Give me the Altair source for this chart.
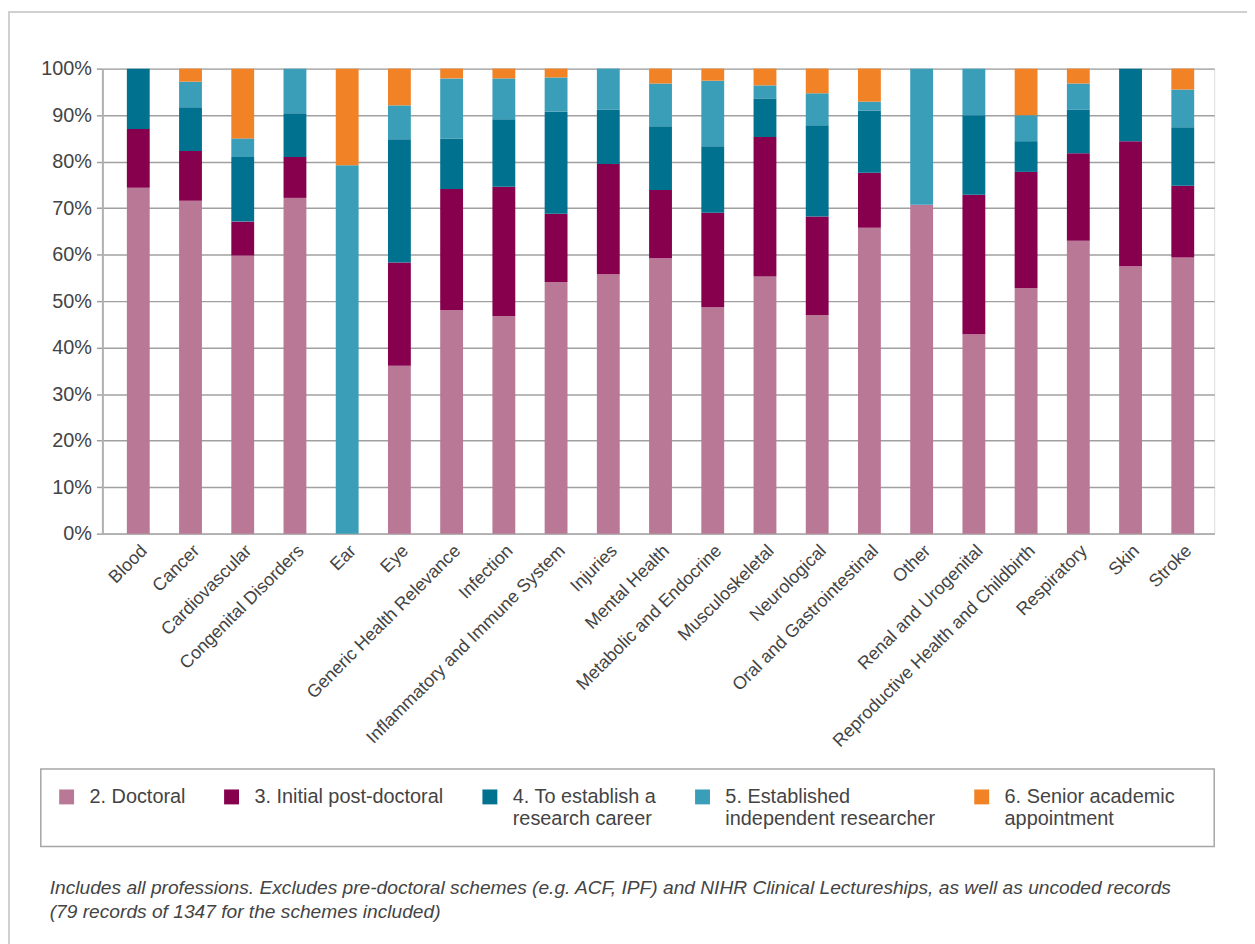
import altair as alt
import pandas as pd

categories = ["Blood", "Cancer", "Cardiovascular", "Congenital Disorders", "Ear", "Eye",
              "Generic Health Relevance", "Infection", "Inflammatory and Immune System",
              "Injuries", "Mental Health", "Metabolic and Endocrine", "Musculoskeletal",
              "Neurological", "Oral and Gastrointestinal", "Other", "Renal and Urogenital",
              "Reproductive Health and Childbirth", "Respiratory", "Skin", "Stroke"]
stages = ["2. Doctoral", "3. Initial post-doctoral", "4. To establish a research career",
          "5. Established independent researcher", "6. Senior academic appointment"]
colors = ["#B87896", "#86004E", "#00718F", "#3A9EB8", "#F28226"]

doctoral = [74.4, 71.6, 59.8, 72.2, 0, 36.1, 48.1, 46.8, 54.1, 55.8, 59.2, 48.7, 55.3, 47.0, 65.8, 70.7, 42.9, 52.8, 63.0, 57.5, 59.4]
postdoc = [12.6, 10.7, 7.3, 8.8, 0, 22.2, 26.0, 27.8, 14.7, 23.7, 14.7, 20.3, 30.0, 21.2, 11.8, 0, 30.0, 25.0, 18.8, 26.9, 15.4]
career = [13.0, 9.4, 13.9, 9.4, 0, 26.5, 10.9, 14.5, 22.0, 11.7, 13.7, 14.3, 8.3, 19.6, 13.4, 0, 17.1, 6.6, 9.4, 15.6, 12.6]
established = [0, 5.5, 4.0, 9.6, 79.2, 7.3, 12.9, 8.8, 7.3, 8.8, 9.2, 14.1, 2.8, 6.9, 1.9, 29.3, 10.0, 5.6, 5.6, 0, 8.1]
senior = [0, 2.8, 15.0, 0, 20.8, 7.9, 2.1, 2.1, 1.9, 0, 3.2, 2.6, 3.6, 5.3, 7.1, 0, 0, 10.0, 3.2, 0, 4.5]

footnote = ("Includes all professions. Excludes pre-doctoral schemes (e.g. ACF, IPF) and NIHR Clinical Lectureships, as well as uncoded records\n"
            "(79 records of 1347 for the schemes included)")

series = [doctoral, postdoc, career, established, senior]
rows = []
for si, (stage, vals) in enumerate(zip(stages, series)):
    for cat, v in zip(categories, vals):
        if v > 0:
            rows.append({"category": cat, "stage": stage, "order": si, "value": v})
df = pd.DataFrame(rows)

FONT = "Liberation Sans"
TXT = "#444444"
W, H = 1119, 468

label_expr = ("datum.label == '4. To establish a research career' ? ['4. To establish a', 'research career'] : "
              "datum.label == '5. Established independent researcher' ? ['5. Established', 'independent researcher'] : "
              "datum.label == '6. Senior academic appointment' ? ['6. Senior academic', 'appointment'] : [datum.label, '']")

bars = alt.Chart(df).mark_bar().encode(
    x=alt.X("category:N", sort=categories, title=None,
            scale=alt.Scale(paddingInner=0.5625, paddingOuter=0.426, align=0.55),
            axis=alt.Axis(labelAngle=-45, ticks=False, labelPadding=8, domainColor="#b0b0b0",
                          domainWidth=2, labelFontSize=18, labelColor=TXT, labelFont=FONT,
                          labelLimit=400)),
    y=alt.Y("value:Q", stack="zero", title=None,
            scale=alt.Scale(domain=[0, 100], nice=False),
            axis=alt.Axis(values=list(range(0, 101, 10)), labelExpr="datum.value + '%'",
                          gridColor="#a0a0a0", gridWidth=1.5, tickColor="#a0a0a0", tickSize=6,
                          tickWidth=1.5, domainColor="#b0b0b0", domainWidth=2, labelPadding=5,
                          labelFontSize=20, labelColor=TXT, labelFont=FONT)),
    color=alt.Color("stage:N", sort=stages, title=None,
                    scale=alt.Scale(domain=stages, range=colors),
                    legend=alt.Legend(orient="none", legendX=-46, legendY=723, direction="horizontal",
                                      columns=5, symbolType="square", symbolSize=225,
                                      symbolStrokeWidth=0, labelFontSize=20, labelFont=FONT,
                                      labelColor=TXT, labelOffset=13,
                                      columnPadding=36, labelLimit=400, labelExpr=label_expr,
                                      labelBaseline="middle", padding=0)),
    order=alt.Order("order:Q", sort="ascending"),
)

dummy = pd.DataFrame({"d": [0]})
outer = alt.Chart(dummy).mark_rect(fill=None, stroke="#d0d0d0", strokeWidth=2).encode(
    x=alt.value(-94), x2=alt.value(W + 200), y=alt.value(-57), y2=alt.value(H + 600))
legend_box = alt.Chart(dummy).mark_rect(fill=None, stroke="#a6a6a6", strokeWidth=1.5).encode(
    x=alt.value(-62), x2=alt.value(1119), y=alt.value(705), y2=alt.value(783))
note = alt.Chart(dummy).mark_text(align="left", baseline="middle", fontSize=19.3, font=FONT,
                                  fontStyle="italic", color=TXT,
                                  lineBreak="\n", lineHeight=24).encode(
    x=alt.value(-53), y=alt.value(825), text=alt.value(footnote))

chart = alt.layer(outer, bars, legend_box, note).properties(
    width=W, height=H,
    autosize=alt.AutoSizeParams(type="none"),
    padding={"left": 95, "top": 58, "right": 33, "bottom": 410},
).configure_view(stroke="#b0b0b0", strokeWidth=1.5).configure(background="white")

chart.save("out.html", embed_options={"renderer": "svg", "actions": False})
